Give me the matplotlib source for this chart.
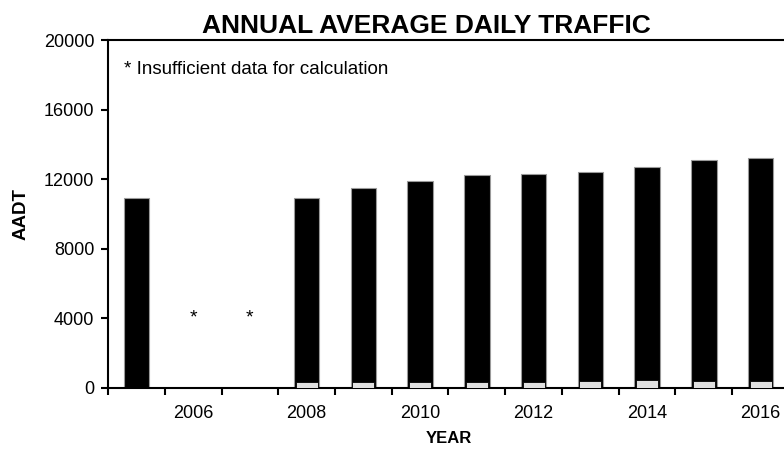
import matplotlib
matplotlib.use("Agg")
import matplotlib.pyplot as plt
import numpy as np

plt.rcParams['font.family'] = ['Liberation Sans', 'DejaVu Sans']

##############################################################################
# Data
years = [2005, 2006, 2007, 2008, 2009, 2010, 2011, 2012, 2013, 2014, 2015, 2016]
aadt = [10950, np.nan, np.nan, 10900, 11480, 11910, 12220, 12320, 12430, 12720, 13080, 13240]
trucks = [np.nan, np.nan, np.nan, 350, 330, 350, 370, 370, 380, 450, 380, 400]
missing = [2006, 2007]
missing_y = 4000
tick_labels = ["", "2006", "", "2008", "", "2010", "", "2012", "", "2014", "", "2016"]

##############################################################################
fig = plt.figure(figsize=(7.84, 4.53), dpi=100)
ax = fig.add_axes([0.1378, 0.1435, 0.8685, 0.768])

x = np.arange(len(years))
ax.bar(x, aadt, width=0.45, color="black", edgecolor="#9a9a9a", linewidth=0.8, zorder=2)
ax.bar(x, trucks, width=0.39, color="#e0e0e0", edgecolor="black", linewidth=0.6, zorder=3)

for yr in missing:
    ax.text(years.index(yr), missing_y, "*", ha="center", va="center", fontsize=14)

ax.text(0.024, 0.915, "* Insufficient data for calculation", transform=ax.transAxes,
        fontsize=13.5, ha="left", va="center")

ax.set_xlim(-0.5, len(years) - 0.5)
ax.set_ylim(0, 20000)
ax.set_yticks(np.arange(0, 20001, 4000))

ax.set_xticks(np.arange(-0.5, len(years), 1.0))
ax.set_xticklabels([])
ax.set_xticks(x, minor=True)
ax.set_xticklabels(tick_labels, minor=True)
ax.tick_params(axis="x", which="major", direction="out", length=5, width=1.5)
ax.tick_params(axis="x", which="minor", length=0, pad=12, labelsize=13)
ax.tick_params(axis="y", direction="out", length=5, width=1.5, labelsize=13, pad=5)

for s in ax.spines.values():
    s.set_linewidth(1.5)

ax.set_title("ANNUAL AVERAGE DAILY TRAFFIC", fontsize=19, fontweight="bold",
             x=0.467, pad=5)
ax.set_xlabel("YEAR", fontsize=12, fontweight="bold", labelpad=7)
ax.set_ylabel("AADT", fontsize=13.5, fontweight="bold", labelpad=10)

fig.savefig("out.png", dpi=100)
